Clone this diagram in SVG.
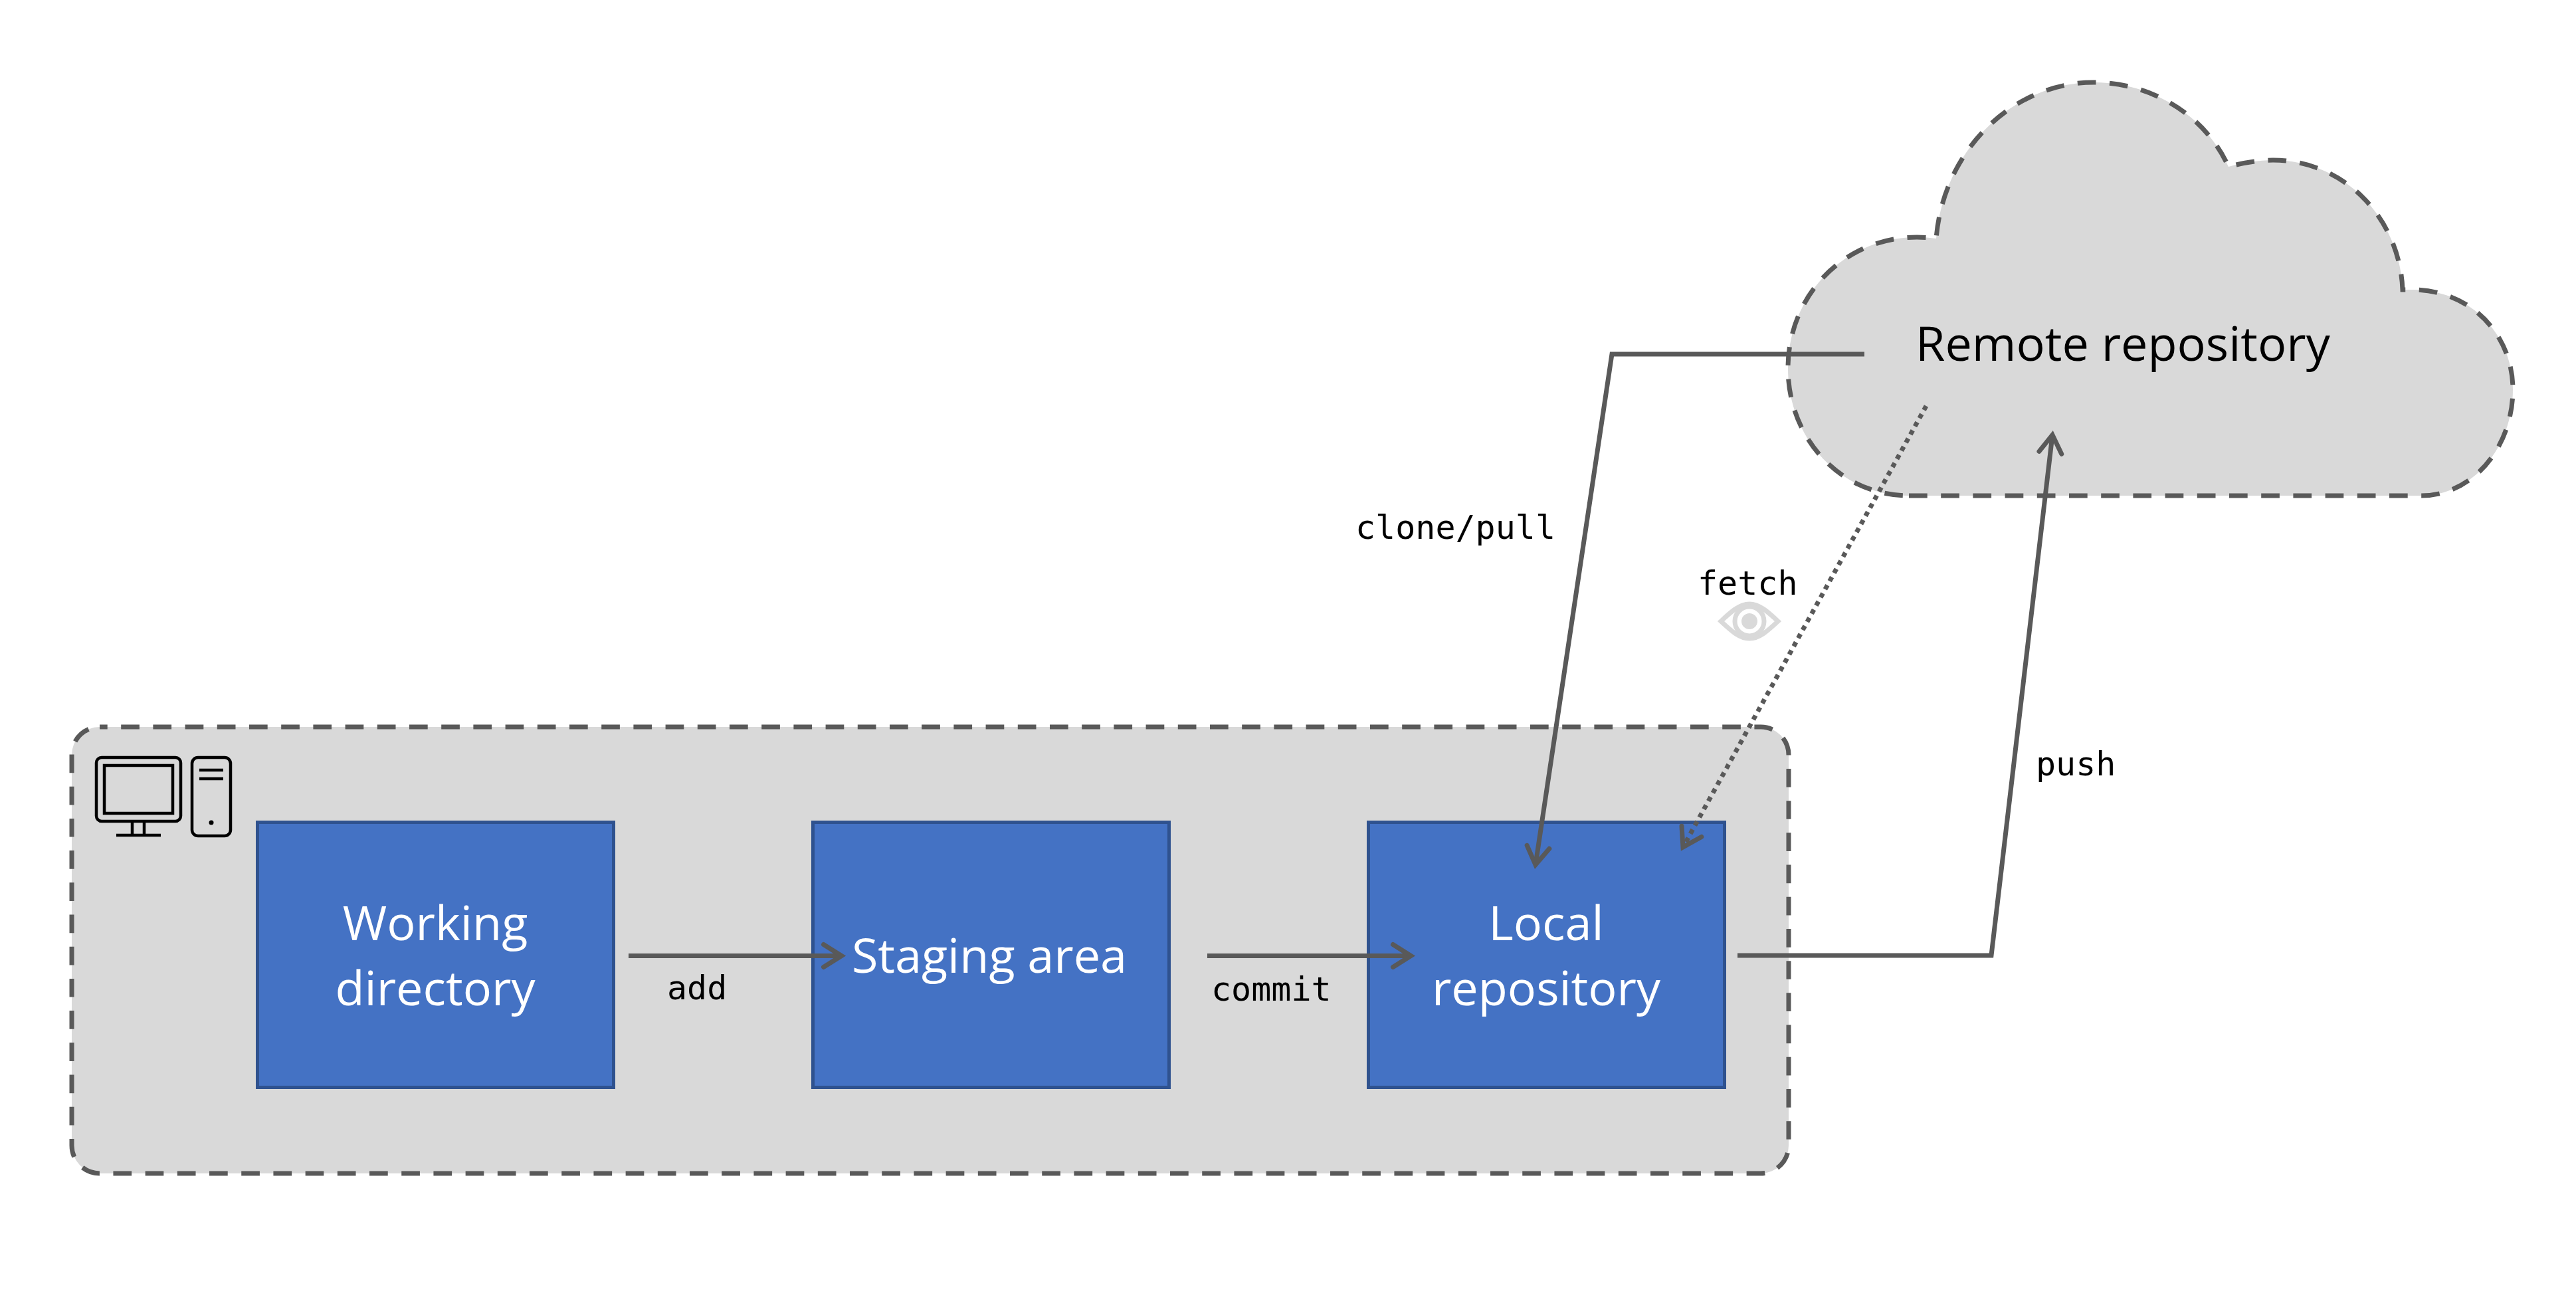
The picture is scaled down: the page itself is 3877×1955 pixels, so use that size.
<svg xmlns="http://www.w3.org/2000/svg" width="3877" height="1955" viewBox="0 0 3877 1955">
<style>
.region{fill:#d9d9d9;stroke:#595959;stroke-width:7;stroke-dasharray:27.7 20.5}
.box{fill:#4472c4;stroke:#2f528f;stroke-width:5}
.conn{fill:none;stroke:#595959;stroke-width:7}
.dot{stroke-dasharray:7 7}
.t{font-family:"Open Sans","Noto Sans",sans-serif}
.w{fill:#fff;font-size:72px;text-anchor:middle}
.m{font-family:"DejaVu Sans Mono",monospace;font-size:50px;fill:#000}
.i{fill:none;stroke:#000;stroke-width:4.500}
.e{fill:none;stroke:#d9d9d9;stroke-width:7}
</style>
<defs>
<marker id="a" markerUnits="userSpaceOnUse" markerWidth="60" markerHeight="60" refX="0" refY="0" orient="auto" overflow="visible" viewBox="-50 -30 60 60">
<path d="M-27,-17 L0,0 L-27,17" fill="none" stroke="#595959" stroke-width="7" stroke-linecap="round" stroke-miterlimit="10"/>
</marker>
</defs>
<rect width="3877" height="1955" fill="#fff"/>
<g id="local-machine">
<rect class="region" x="108" y="1094" width="2584" height="672" rx="42" ry="42" stroke-dashoffset="16"/>
<g id="computer-icon">
<rect class="i" x="145" y="1140" width="127" height="96" rx="8"/>
<rect class="i" x="157" y="1152" width="103" height="72"/>
<path class="i" d="M199,1236V1257M217,1236V1257M175,1257H242"/>
<rect class="i" x="289" y="1140" width="58" height="118" rx="9"/>
<path class="i" d="M300,1159H336M300,1172H336"/>
<circle cx="318" cy="1238" r="3.500"/>
</g>
</g>
<g id="remote-repository">
<path class="region" d="M2873,746 L3644,746 C3720,746 3782,675 3782,586 C3782,505 3720,436 3630,436 L3616,436 C3612,330 3530,241 3421,241 C3400,241 3375,245 3354,251 C3320,175 3240,124 3151,124 C3030,124 2925,225 2914,359 Q2900,357 2885,357 C2775,357 2691,445 2691,554 C2691,660 2770,746 2873,746 Z"/>
<text class="t" x="2883" y="543" font-size="72" fill="#000">Remote repository</text>
</g>
<g id="working-directory">
<rect class="box" x="387.500" y="1237.500" width="536" height="399"/>
<text class="t w" x="655" y="1415">Working</text>
<text class="t w" x="655" y="1513">directory</text>
</g>
<g id="staging-area">
<rect class="box" x="1223.500" y="1237.500" width="536" height="399"/>
<text class="t w" x="1489" y="1464">Staging area</text>
</g>
<g id="local-repository">
<rect class="box" x="2059.500" y="1237.500" width="536" height="399"/>
<text class="t w" x="2327" y="1415">Local</text>
<text class="t w" x="2327" y="1513">repository</text>
</g>
<g id="connectors">
<path class="conn" marker-end="url(#a)" d="M946,1438.500H1266.500"/>
<path class="conn" marker-end="url(#a)" d="M1817,1438.500H2123.500"/>
<path class="conn" marker-end="url(#a)" d="M2806,533H2426L2311,1301.500"/>
<path class="conn" marker-end="url(#a)" d="M2615,1438H2997L3089,654.500"/>
<path class="conn dot" d="M2899,611L2533,1275"/>
<path class="conn" marker-end="url(#a)" stroke-opacity="0" d="M2539,1264L2533,1275"/>
</g>
<g id="labels">
<text class="m" x="1004" y="1504">add</text>
<text class="m" x="1823" y="1506">commit</text>
<text class="m" x="2040" y="811">clone/pull</text>
<text class="m" x="2555" y="895">fetch</text>
<text class="m" x="3064" y="1167">push</text>
</g>
<g id="fetch-eye">
<path class="e" d="M2590,935 C2605,921 2618,909 2633,909 C2648,909 2661,921 2676,935 C2661,949 2648,961 2633,961 C2618,961 2605,949 2590,935 Z"/>
<circle class="e" cx="2633" cy="935" r="22" stroke-width="5"/>
<circle cx="2633" cy="935" r="12" fill="#d9d9d9"/>
</g>
</svg>
